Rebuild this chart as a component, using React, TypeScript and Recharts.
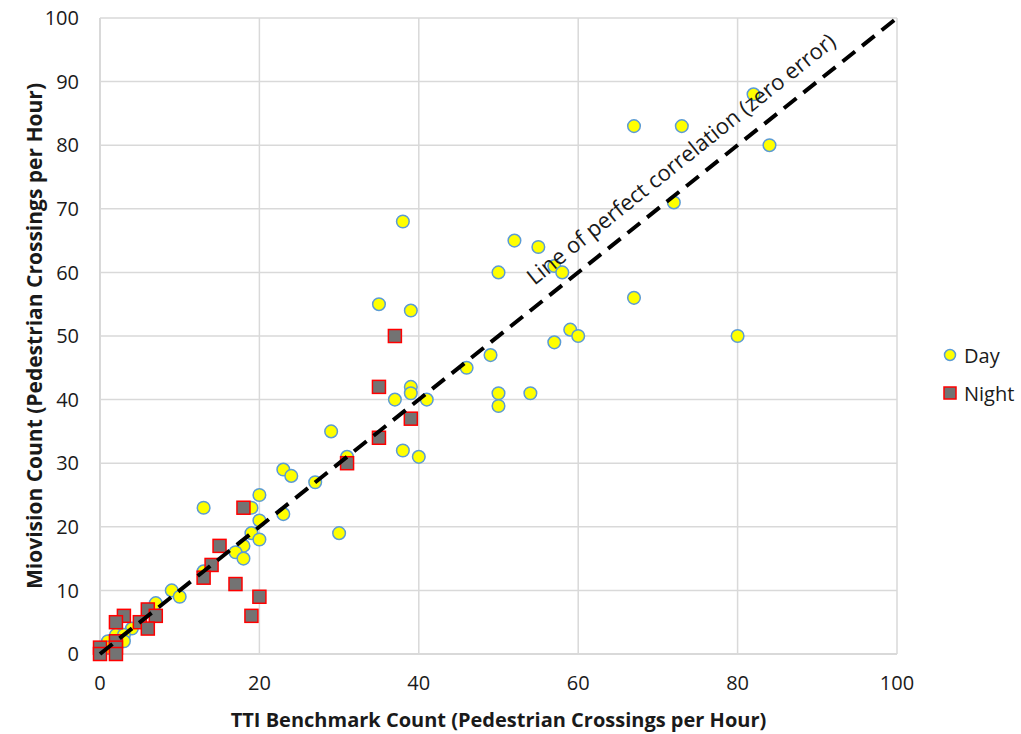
import React from 'react';
import { ScatterChart, Scatter, XAxis, YAxis, CartesianGrid, ReferenceDot, Label } from 'recharts';

const FONT = '"Open Sans", "DejaVu Sans", sans-serif';

const dayPoints = [
  { x: 82, y: 88 }, { x: 67, y: 83 }, { x: 73, y: 83 }, { x: 84, y: 80 }, { x: 72, y: 71 },
  { x: 38, y: 68 }, { x: 52, y: 65 }, { x: 55, y: 64 }, { x: 57, y: 61 }, { x: 58, y: 60 },
  { x: 50, y: 60 }, { x: 67, y: 56 }, { x: 35, y: 55 }, { x: 39, y: 54 }, { x: 59, y: 51 },
  { x: 60, y: 50 }, { x: 80, y: 50 }, { x: 57, y: 49 }, { x: 49, y: 47 }, { x: 46, y: 45 },
  { x: 39, y: 42 }, { x: 39, y: 41 }, { x: 50, y: 41 }, { x: 54, y: 41 }, { x: 37, y: 40 },
  { x: 41, y: 40 }, { x: 50, y: 39 }, { x: 29, y: 35 }, { x: 38, y: 32 }, { x: 40, y: 31 },
  { x: 31, y: 31 }, { x: 23, y: 29 }, { x: 24, y: 28 }, { x: 27, y: 27 }, { x: 20, y: 25 },
  { x: 13, y: 23 }, { x: 19, y: 23 }, { x: 23, y: 22 }, { x: 20, y: 21 }, { x: 30, y: 19 },
  { x: 19, y: 19 }, { x: 20, y: 18 }, { x: 18, y: 17 }, { x: 17, y: 16 }, { x: 18, y: 15 },
  { x: 13, y: 13 }, { x: 9, y: 10 }, { x: 10, y: 9 }, { x: 7, y: 8 }, { x: 4, y: 4 },
  { x: 2, y: 3 }, { x: 3, y: 3 }, { x: 3, y: 2 }, { x: 1, y: 2 }, { x: 1, y: 1 }, { x: 0, y: 0 },
];

const nightPoints = [
  { x: 37, y: 50 }, { x: 35, y: 42 }, { x: 39, y: 37 }, { x: 35, y: 34 }, { x: 31, y: 30 },
  { x: 18, y: 23 }, { x: 15, y: 17 }, { x: 14, y: 14 }, { x: 13, y: 12 }, { x: 17, y: 11 },
  { x: 20, y: 9 }, { x: 19, y: 6 }, { x: 6, y: 7 }, { x: 7, y: 6 }, { x: 5, y: 5 },
  { x: 6, y: 4 }, { x: 3, y: 6 }, { x: 2, y: 5 }, { x: 2, y: 2 }, { x: 2, y: 1 },
  { x: 2, y: 0 }, { x: 0, y: 1 }, { x: 0, y: 0 },
];

const perfectLine = [{ x: 0, y: 0 }, { x: 100, y: 100 }];
const lineLabelPos = { x: 72.8, y: 78.0 };

const xTicks = [0, 20, 40, 60, 80, 100];
const yTicks = [0, 10, 20, 30, 40, 50, 60, 70, 80, 90, 100];

const xTitle = 'TTI Benchmark Count (Pedestrian Crossings per Hour)';
const yTitle = 'Miovision Count (Pedestrian Crossings per Hour)';
const lineTitle = 'Line of perfect correlation (zero error)';
const legendNames = ['Day', 'Night'];

const DAY_FILL = '#FFFF00';
const DAY_STROKE = '#5B9BD5';
const NIGHT_FILL = '#737373';
const NIGHT_STROKE = '#FF0000';
const GRID = '#d9d9d9';
const TEXT = '#1a1a1a';

const DayShape = (p: any) => (
  <circle cx={p.cx} cy={p.cy} r={6.3} fill={DAY_FILL} stroke={DAY_STROKE} strokeWidth={1.5} />
);
const NightShape = (p: any) => (
  <rect x={p.cx - 6.5} y={p.cy - 6.5} width={13} height={13} fill={NIGHT_FILL} stroke={NIGHT_STROKE} strokeWidth={1.5} />
);
const NoShape = () => <g />;

const LineLabel = (p: any) => (
  <text
    x={p.cx}
    y={p.cy}
    transform={`rotate(-38.59 ${p.cx} ${p.cy})`}
    textAnchor="middle"
    dominantBaseline="central"
    fontSize={22}
    fontFamily={FONT}
    fill={TEXT}
  >
    {lineTitle}
  </text>
);

export default function App() {
  return (
    <div style={{ position: 'absolute', left: 0, top: 0, width: 1021, height: 734, background: '#fff' }}>
      <ScatterChart width={1021} height={734} margin={{ top: 18, right: 124, bottom: 0, left: 0 }}>
        <CartesianGrid stroke={GRID} strokeWidth={1.5} />
        <XAxis
          type="number"
          dataKey="x"
          domain={[0, 100]}
          ticks={xTicks}
          height={80}
          tickSize={0}
          tickMargin={22}
          tickLine={false}
          axisLine={{ stroke: GRID, strokeWidth: 2 }}
          tick={{ fill: TEXT, fontSize: 20, fontFamily: FONT }}
        >
          <Label
            value={xTitle}
            position="insideBottom"
            offset={7}
            style={{ fontSize: 20, fontWeight: 700, fill: TEXT, fontFamily: FONT }}
          />
        </XAxis>
        <YAxis
          type="number"
          dataKey="y"
          domain={[0, 100]}
          ticks={yTicks}
          width={100}
          tickSize={0}
          tickMargin={21}
          tickLine={false}
          axisLine={{ stroke: GRID, strokeWidth: 2 }}
          tick={{ fill: TEXT, fontSize: 20, fontFamily: FONT }}
        >
          <Label
            value={yTitle}
            angle={-90}
            position="insideLeft"
            offset={35}
            style={{ fontSize: 21, fontWeight: 700, fill: TEXT, fontFamily: FONT, textAnchor: 'middle' }}
          />
        </YAxis>
        <Scatter name="Day" data={dayPoints} shape={DayShape} isAnimationActive={false} />
        <Scatter name="Night" data={nightPoints} shape={NightShape} isAnimationActive={false} />
        <Scatter
          name="Line"
          data={perfectLine}
          shape={NoShape}
          line={{ stroke: '#000', strokeWidth: 4, strokeDasharray: '16 9' }}
          lineType="joint"
          legendType="none"
          isAnimationActive={false}
        />
        <ReferenceDot x={lineLabelPos.x} y={lineLabelPos.y} r={0} shape={LineLabel} />
      </ScatterChart>
      <div style={{ position: 'absolute', left: 942, top: 342, height: 26, display: 'flex', alignItems: 'center', fontFamily: FONT, fontSize: 20, color: TEXT }}>
        <svg width={16} height={16} style={{ marginRight: 6 }}>
          <circle cx={8} cy={8} r={5.5} fill={DAY_FILL} stroke={DAY_STROKE} strokeWidth={1.5} />
        </svg>
        <span>{legendNames[0]}</span>
      </div>
      <div style={{ position: 'absolute', left: 942, top: 380, height: 26, display: 'flex', alignItems: 'center', fontFamily: FONT, fontSize: 20, color: TEXT }}>
        <svg width={16} height={16} style={{ marginRight: 6 }}>
          <rect x={2} y={2} width={12} height={12} fill={NIGHT_FILL} stroke={NIGHT_STROKE} strokeWidth={1.5} />
        </svg>
        <span>{legendNames[1]}</span>
      </div>
    </div>
  );
}
